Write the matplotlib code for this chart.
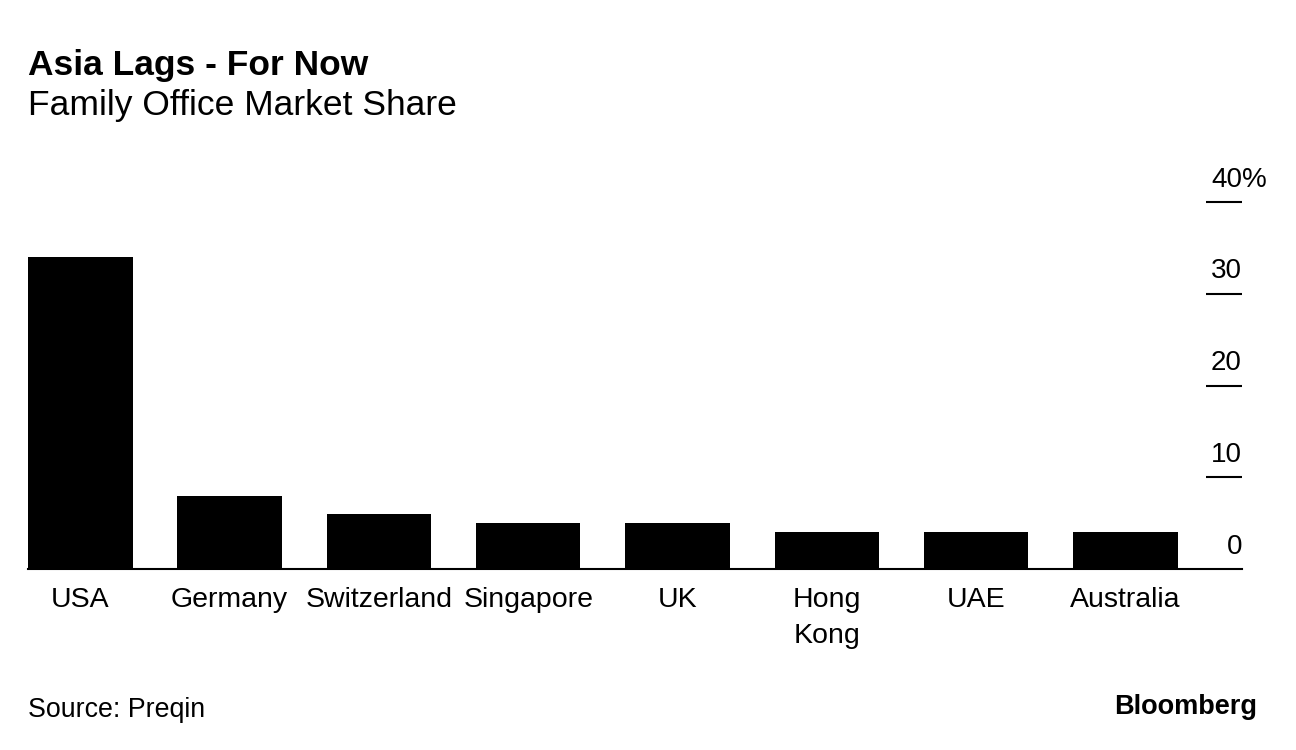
import matplotlib.pyplot as plt

categories = ["USA", "Germany", "Switzerland", "Singapore", "UK", "Hong\nKong", "UAE", "Australia"]
share = [34, 8, 6, 5, 5, 4, 4, 4]
y_ticks = [0, 10, 20, 30, 40]
tick_labels = ["0", "10", "20", "30", "40"]

plt.rcParams["font.family"] = ["Liberation Sans", "DejaVu Sans"]

W, H = 1296, 750
fig = plt.figure(figsize=(W / 100, H / 100), dpi=100)
ax = fig.add_axes([28 / W, 181 / H, 1214 / W, 367 / H])

x = list(range(len(categories)))
ax.bar(x, share, width=0.7, color="black")
ax.set_xlim(-0.35, 7.78)
ax.set_ylim(0, 40)

for side in ["top", "left", "right"]:
    ax.spines[side].set_visible(False)
ax.spines["bottom"].set_linewidth(1.5)
ax.set_xticks(x)
ax.set_xticklabels(categories, fontsize=20.5, linespacing=1.5)
ax.tick_params(axis="x", length=0, pad=13)
ax.set_yticks([])

# right-hand value scale: short rules with labels sitting on top
trans = ax.get_yaxis_transform()
ax.hlines(y_ticks[1:], 0.97, 1.0, transform=trans, color="black", lw=1.5, clip_on=False)
for v, lab in zip(y_ticks, tick_labels):
    ax.annotate(lab, xy=(1.0, v), xycoords=trans, xytext=(0, 11), textcoords="offset points",
                ha="right", va="baseline", fontsize=20)
ax.annotate("%", xy=(1.0, y_ticks[-1]), xycoords=trans, xytext=(0, 11), textcoords="offset points",
            ha="left", va="baseline", fontsize=20)

fig.text(28 / W, 1 - 75 / H, "Asia Lags - For Now", fontsize=25.5, fontweight="bold", ha="left", va="baseline")
fig.text(28 / W, 1 - 115 / H, "Family Office Market Share", fontsize=25.5, ha="left", va="baseline")
fig.text(28 / W, 1 - 717 / H, "Source: Preqin", fontsize=19.3, ha="left", va="baseline")
fig.text(1257 / W, 1 - 714 / H, "Bloomberg", fontsize=19.5, fontweight="bold", ha="right", va="baseline")

fig.savefig("out.png", dpi=100)
